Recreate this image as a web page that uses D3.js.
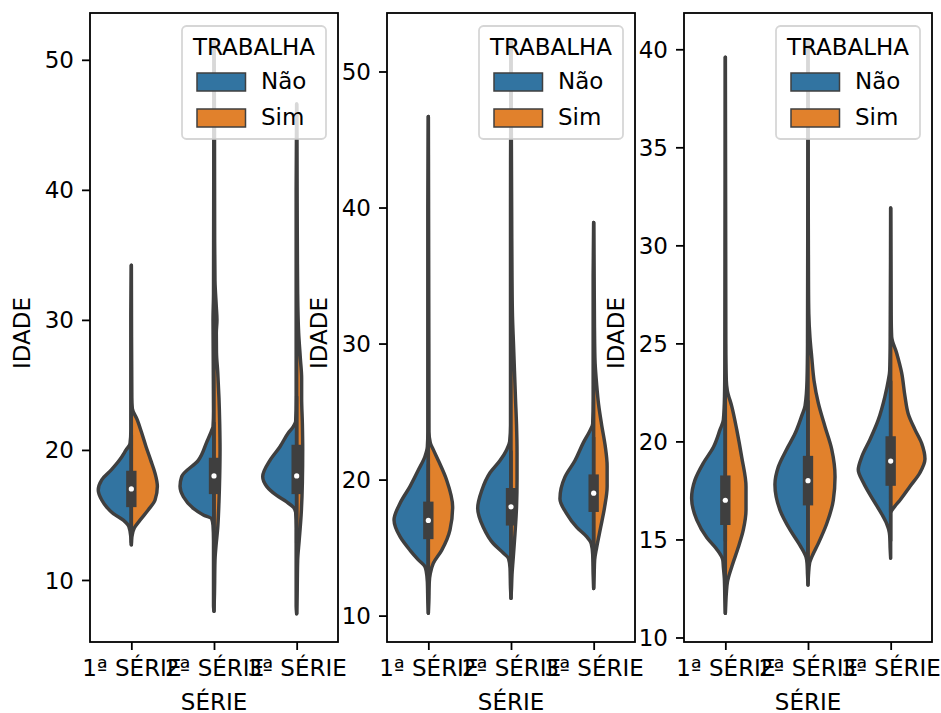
<!DOCTYPE html>
<html><head><meta charset="utf-8">
<script src="https://cdn.jsdelivr.net/npm/d3@7"></script>
<style>body{margin:0;background:#fff}text{font-family:"DejaVu Sans",sans-serif}</style>
</head><body><svg id="c" width="941" height="713"></svg>
<script>
// ---------------- DATA ----------------
const categories = ["1ª SÉRIE", "2ª SÉRIE", "3ª SÉRIE"];
const hues = ["Não", "Sim"];
const legendTitle = "TRABALHA";
const xTitle = "SÉRIE";
const yTitle = "IDADE";

const yTicks1 = [10, 20, 30, 40, 50];
const yTicks2 = [10, 20, 30, 40, 50];
const yTicks3 = [10, 15, 20, 25, 30, 35, 40];
const yDomain1 = [5.23, 53.6];
const yDomain2 = [8.06, 54.3];
const yDomain3 = [9.77, 41.85];

// box statistics per category (quartiles, median, whisker ends)
const q1_1 = [16, 17, 17], med_1 = [17, 18, 18], q3_1 = [18, 19, 20], lo_1 = [13, 14, 13], hi_1 = [21, 22, 24];
const q1_2 = [16, 17, 18], med_2 = [17, 18, 19], q3_2 = [18, 19, 20], lo_2 = [13, 14, 15], hi_2 = [21, 22, 23];
const q1_3 = [16, 17, 18], med_3 = [17, 18, 19], q3_3 = [18, 19, 20], lo_3 = [15, 14, 15], hi_3 = [21, 22, 23];

// half-violin density profiles: [IDADE, half width in category units]
const dens1_nao = [
  [[12.7,0],[13.3,0.006],[14.1,0.03],[14.6,0.097],[15.1,0.218],[15.6,0.298],[16.15,0.358],[16.9,0.4],[17.7,0.358],[18.5,0.237],[19.2,0.145],[20.0,0.064],[20.5,0.016],[21.5,0.006],[30,0.006],[34.2,0]],
  [[7.6,0],[8,0.006],[13,0.006],[14.2,0.012],[14.7,0.028],[15.0,0.129],[15.5,0.25],[16.4,0.371],[17.2,0.411],[17.95,0.391],[19.2,0.19],[20.6,0.088],[21.5,0.028],[21.8,0.012],[23,0.006],[30,0.012],[32,0.006],[51.4,0]],
  [[7.4,0],[8,0.006],[14,0.006],[15.2,0.012],[15.6,0.041],[16,0.121],[16.5,0.242],[17.2,0.363],[17.95,0.411],[19.2,0.323],[20.25,0.202],[21.3,0.102],[21.8,0.041],[22.2,0.012],[24,0.006],[40,0.006],[46.6,0]]
];
const dens1_sim = [
  [[12.7,0],[13.3,0.006],[14.0,0.036],[14.6,0.105],[15.4,0.206],[16.15,0.287],[17.2,0.315],[18.2,0.287],[19.2,0.235],[20.25,0.178],[21.3,0.126],[22.3,0.073],[23.2,0.012],[24,0.006],[34.2,0]],
  [[7.6,0],[9,0.006],[11.5,0.012],[12.6,0.024],[14,0.045],[16,0.06],[18,0.069],[20,0.073],[22,0.069],[24,0.06],[26,0.045],[27.5,0.03],[29,0.028],[30,0.036],[31,0.028],[33,0.012],[36,0.008],[45,0.006],[51.4,0]],
  [[7.4,0],[9,0.006],[11.5,0.012],[13,0.03],[15,0.054],[17.5,0.069],[20,0.073],[22,0.069],[24,0.06],[25.5,0.06],[27,0.045],[29,0.024],[32,0.012],[36,0.008],[46.6,0]]
];
const dens2_nao = [
  [[10.17,0],[11,0.006],[12.5,0.012],[13.2,0.024],[13.6,0.041],[14.1,0.121],[14.8,0.221],[15.8,0.342],[17.03,0.415],[18.26,0.342],[19.5,0.221],[20.7,0.121],[21.7,0.041],[22.4,0.012],[23.5,0.006],[40,0.006],[46.7,0]],
  [[11.27,0],[12,0.006],[13.5,0.012],[14.2,0.03],[14.6,0.093],[15.3,0.214],[16.5,0.335],[17.9,0.403],[19.2,0.354],[20.5,0.254],[21.4,0.133],[22.2,0.052],[22.8,0.016],[24,0.006],[40,0.006],[52.2,0]],
  [[12.0,0],[13,0.006],[14.5,0.012],[15.3,0.03],[15.8,0.085],[16.5,0.206],[17.5,0.327],[18.6,0.408],[20.2,0.347],[21.4,0.226],[22.7,0.126],[23.6,0.045],[24.1,0.012],[26,0.006],[35,0.006],[38.9,0]]
];
const dens2_sim = [
  [[10.17,0],[11,0.006],[12.5,0.012],[13.1,0.024],[13.85,0.06],[14.8,0.161],[16.3,0.262],[18.0,0.294],[19.97,0.221],[21.4,0.121],[22.2,0.06],[22.7,0.024],[23.5,0.008],[30,0.006],[46.7,0]],
  [[11.27,0],[12,0.006],[13,0.012],[14,0.024],[16,0.048],[18,0.067],[20,0.073],[22,0.073],[24,0.067],[26,0.054],[28,0.042],[30,0.03],[32,0.018],[35,0.012],[40,0.008],[52.2,0]],
  [[12.0,0],[13,0.006],[14.1,0.012],[15,0.036],[16.5,0.085],[18,0.133],[19.5,0.163],[21,0.163],[22.5,0.139],[24,0.097],[25.5,0.06],[27,0.036],[28.5,0.018],[30,0.012],[33,0.008],[38.9,0]]
];
const dens3_nao = [
  [[11.23,0],[12,0.006],[13,0.012],[13.6,0.024],[13.95,0.031],[14.5,0.104],[15.1,0.225],[16.0,0.346],[17.1,0.408],[18.04,0.367],[18.9,0.266],[19.7,0.145],[20.6,0.064],[21.1,0.024],[22.3,0.01],[24,0.006],[39.6,0]],
  [[12.68,0],[13.2,0.006],[13.8,0.012],[14.1,0.024],[14.7,0.097],[15.5,0.218],[16.5,0.339],[17.8,0.4],[18.7,0.359],[19.6,0.258],[20.4,0.157],[21.3,0.076],[21.8,0.036],[23.1,0.012],[25,0.006],[40.4,0]],
  [[14.04,0],[14.5,0.006],[15.2,0.012],[15.5,0.024],[15.8,0.048],[16.3,0.109],[17.0,0.21],[17.9,0.331],[18.55,0.392],[19.2,0.351],[20.1,0.25],[21.1,0.15],[22.3,0.069],[23.1,0.029],[23.6,0.012],[25,0.006],[31.9,0]]
];
const dens3_sim = [
  [[11.23,0],[11.8,0.006],[12.25,0.012],[12.8,0.024],[13.6,0.077],[14.6,0.157],[15.5,0.218],[16.5,0.25],[17.7,0.25],[19.2,0.198],[20.6,0.138],[21.8,0.077],[22.6,0.024],[23.1,0.012],[25,0.006],[39.6,0]],
  [[12.68,0],[13.2,0.006],[13.8,0.02],[14.1,0.045],[14.8,0.125],[15.8,0.226],[17.0,0.306],[18.2,0.327],[19.6,0.287],[20.75,0.206],[21.95,0.125],[23.1,0.073],[24.3,0.045],[25.3,0.024],[26.5,0.01],[28,0.006],[40.4,0]],
  [[16.4,0],[16.7,0.052],[17.0,0.112],[17.7,0.233],[18.4,0.354],[19.1,0.415],[19.9,0.375],[20.6,0.294],[21.4,0.213],[22.3,0.173],[23.5,0.133],[24.5,0.073],[25.35,0.012],[26.5,0.006],[31.9,0]]
];

// ---------------- LAYOUT / STYLE ----------------
const colors = {"Não": "#3274a1", "Sim": "#e1812c"};
const gray = "#3f3f3f";
const FS = 23;
const panelW = 248, topY = 13, bottomY = 642;
const panels = [
  {x0: 90,  ticks: yTicks1, dom: yDomain1, nao: dens1_nao, sim: dens1_sim, q1: q1_1, med: med_1, q3: q3_1, lo: lo_1, hi: hi_1},
  {x0: 387, ticks: yTicks2, dom: yDomain2, nao: dens2_nao, sim: dens2_sim, q1: q1_2, med: med_2, q3: q3_2, lo: lo_2, hi: hi_2},
  {x0: 684, ticks: yTicks3, dom: yDomain3, nao: dens3_nao, sim: dens3_sim, q1: q1_3, med: med_3, q3: q3_3, lo: lo_3, hi: hi_3}
];

const svg = d3.select("#c");
svg.append("rect").attr("width", 941).attr("height", 713).attr("fill", "#fff");

panels.forEach(p => {
  const g = svg.append("g");
  const x = d3.scalePoint().domain(categories).range([p.x0, p.x0 + panelW]).padding(0.5);
  const step = x.step();
  const y = d3.scaleLinear().domain(p.dom).range([bottomY, topY]);

  const clipId = "clip" + p.x0;
  svg.append("clipPath").attr("id", clipId).append("rect")
    .attr("x", p.x0).attr("y", topY).attr("width", panelW).attr("height", bottomY - topY);
  const plot = g.append("g").attr("clip-path", `url(#${clipId})`);

  categories.forEach((cat, i) => {
    const cx = x(cat);
    [["Não", p.nao[i], -1], ["Sim", p.sim[i], 1]].forEach(([hue, dens, side]) => {
      const pts = dens.slice().sort((a, b) => b[0] - a[0]);
      const area = d3.area()
        .curve(d3.curveMonotoneY)
        .y(d => y(d[0]))
        .x0(cx)
        .x1(d => cx + side * d[1] * step);
      plot.append("path").attr("d", area(pts))
        .attr("fill", colors[hue]).attr("stroke", gray)
        .attr("stroke-width", 3.45).attr("stroke-linejoin", "round");
    });
    plot.append("line").attr("x1", cx).attr("x2", cx)
      .attr("y1", y(p.lo[i])).attr("y2", y(p.hi[i]))
      .attr("stroke", gray).attr("stroke-width", 3.45).attr("stroke-linecap", "square");
    plot.append("line").attr("x1", cx).attr("x2", cx)
      .attr("y1", y(p.q1[i])).attr("y2", y(p.q3[i]))
      .attr("stroke", gray).attr("stroke-width", 10.35).attr("stroke-linecap", "square");
    plot.append("circle").attr("cx", cx).attr("cy", y(p.med[i])).attr("r", 2.6)
      .attr("fill", "#fff");
  });

  const ya = g.append("g").attr("transform", `translate(${p.x0},0)`)
    .call(d3.axisLeft(y).tickValues(p.ticks).tickSize(8).tickPadding(8).tickFormat(d3.format("d")));
  ya.select(".domain").remove();
  ya.selectAll(".tick line").attr("stroke", "#000").attr("stroke-width", 1.8);
  ya.selectAll(".tick text").attr("font-size", FS).attr("fill", "#000")
    .attr("font-family", "DejaVu Sans").attr("dy", "0.35em");

  const xa = g.append("g").attr("transform", `translate(0,${bottomY})`)
    .call(d3.axisBottom(x).tickSize(8).tickPadding(10));
  xa.select(".domain").remove();
  xa.selectAll(".tick line").attr("stroke", "#000").attr("stroke-width", 1.8);
  xa.selectAll(".tick text").attr("font-size", FS).attr("fill", "#000")
    .attr("font-family", "DejaVu Sans").attr("dy", "0.71em");

  g.append("rect").attr("x", p.x0).attr("y", topY).attr("width", panelW).attr("height", bottomY - topY)
    .attr("fill", "none").attr("stroke", "#000").attr("stroke-width", 1.8);

  g.append("text").attr("x", p.x0 + panelW / 2).attr("y", 710)
    .attr("text-anchor", "middle").attr("font-size", FS).attr("fill", "#000").text(xTitle);
  g.append("text").attr("transform", `translate(${p.x0 - 60},${333}) rotate(-90)`)
    .attr("text-anchor", "middle").attr("font-size", FS).attr("fill", "#000").text(yTitle);

  const R = p.x0 + panelW;
  const lg = g.append("g");
  lg.append("rect").attr("x", R - 156).attr("y", topY + 13).attr("width", 144).attr("height", 113)
    .attr("rx", 4.5).attr("fill", "#fff").attr("fill-opacity", 0.8)
    .attr("stroke", "#cccccc").attr("stroke-opacity", 0.8).attr("stroke-width", 1.8);
  lg.append("text").attr("x", R - 84).attr("y", topY + 42).attr("text-anchor", "middle")
    .attr("font-size", FS).attr("fill", "#000").text(legendTitle);
  hues.forEach((h, k) => {
    lg.append("rect").attr("x", R - 141).attr("y", topY + 60 + k * 36).attr("width", 48.5).attr("height", 18)
      .attr("fill", colors[h]).attr("stroke", gray).attr("stroke-width", 1.5);
    lg.append("text").attr("x", R - 77).attr("y", topY + 76 + k * 36)
      .attr("font-size", FS).attr("fill", "#000").text(h);
  });
});
</script></body></html>
